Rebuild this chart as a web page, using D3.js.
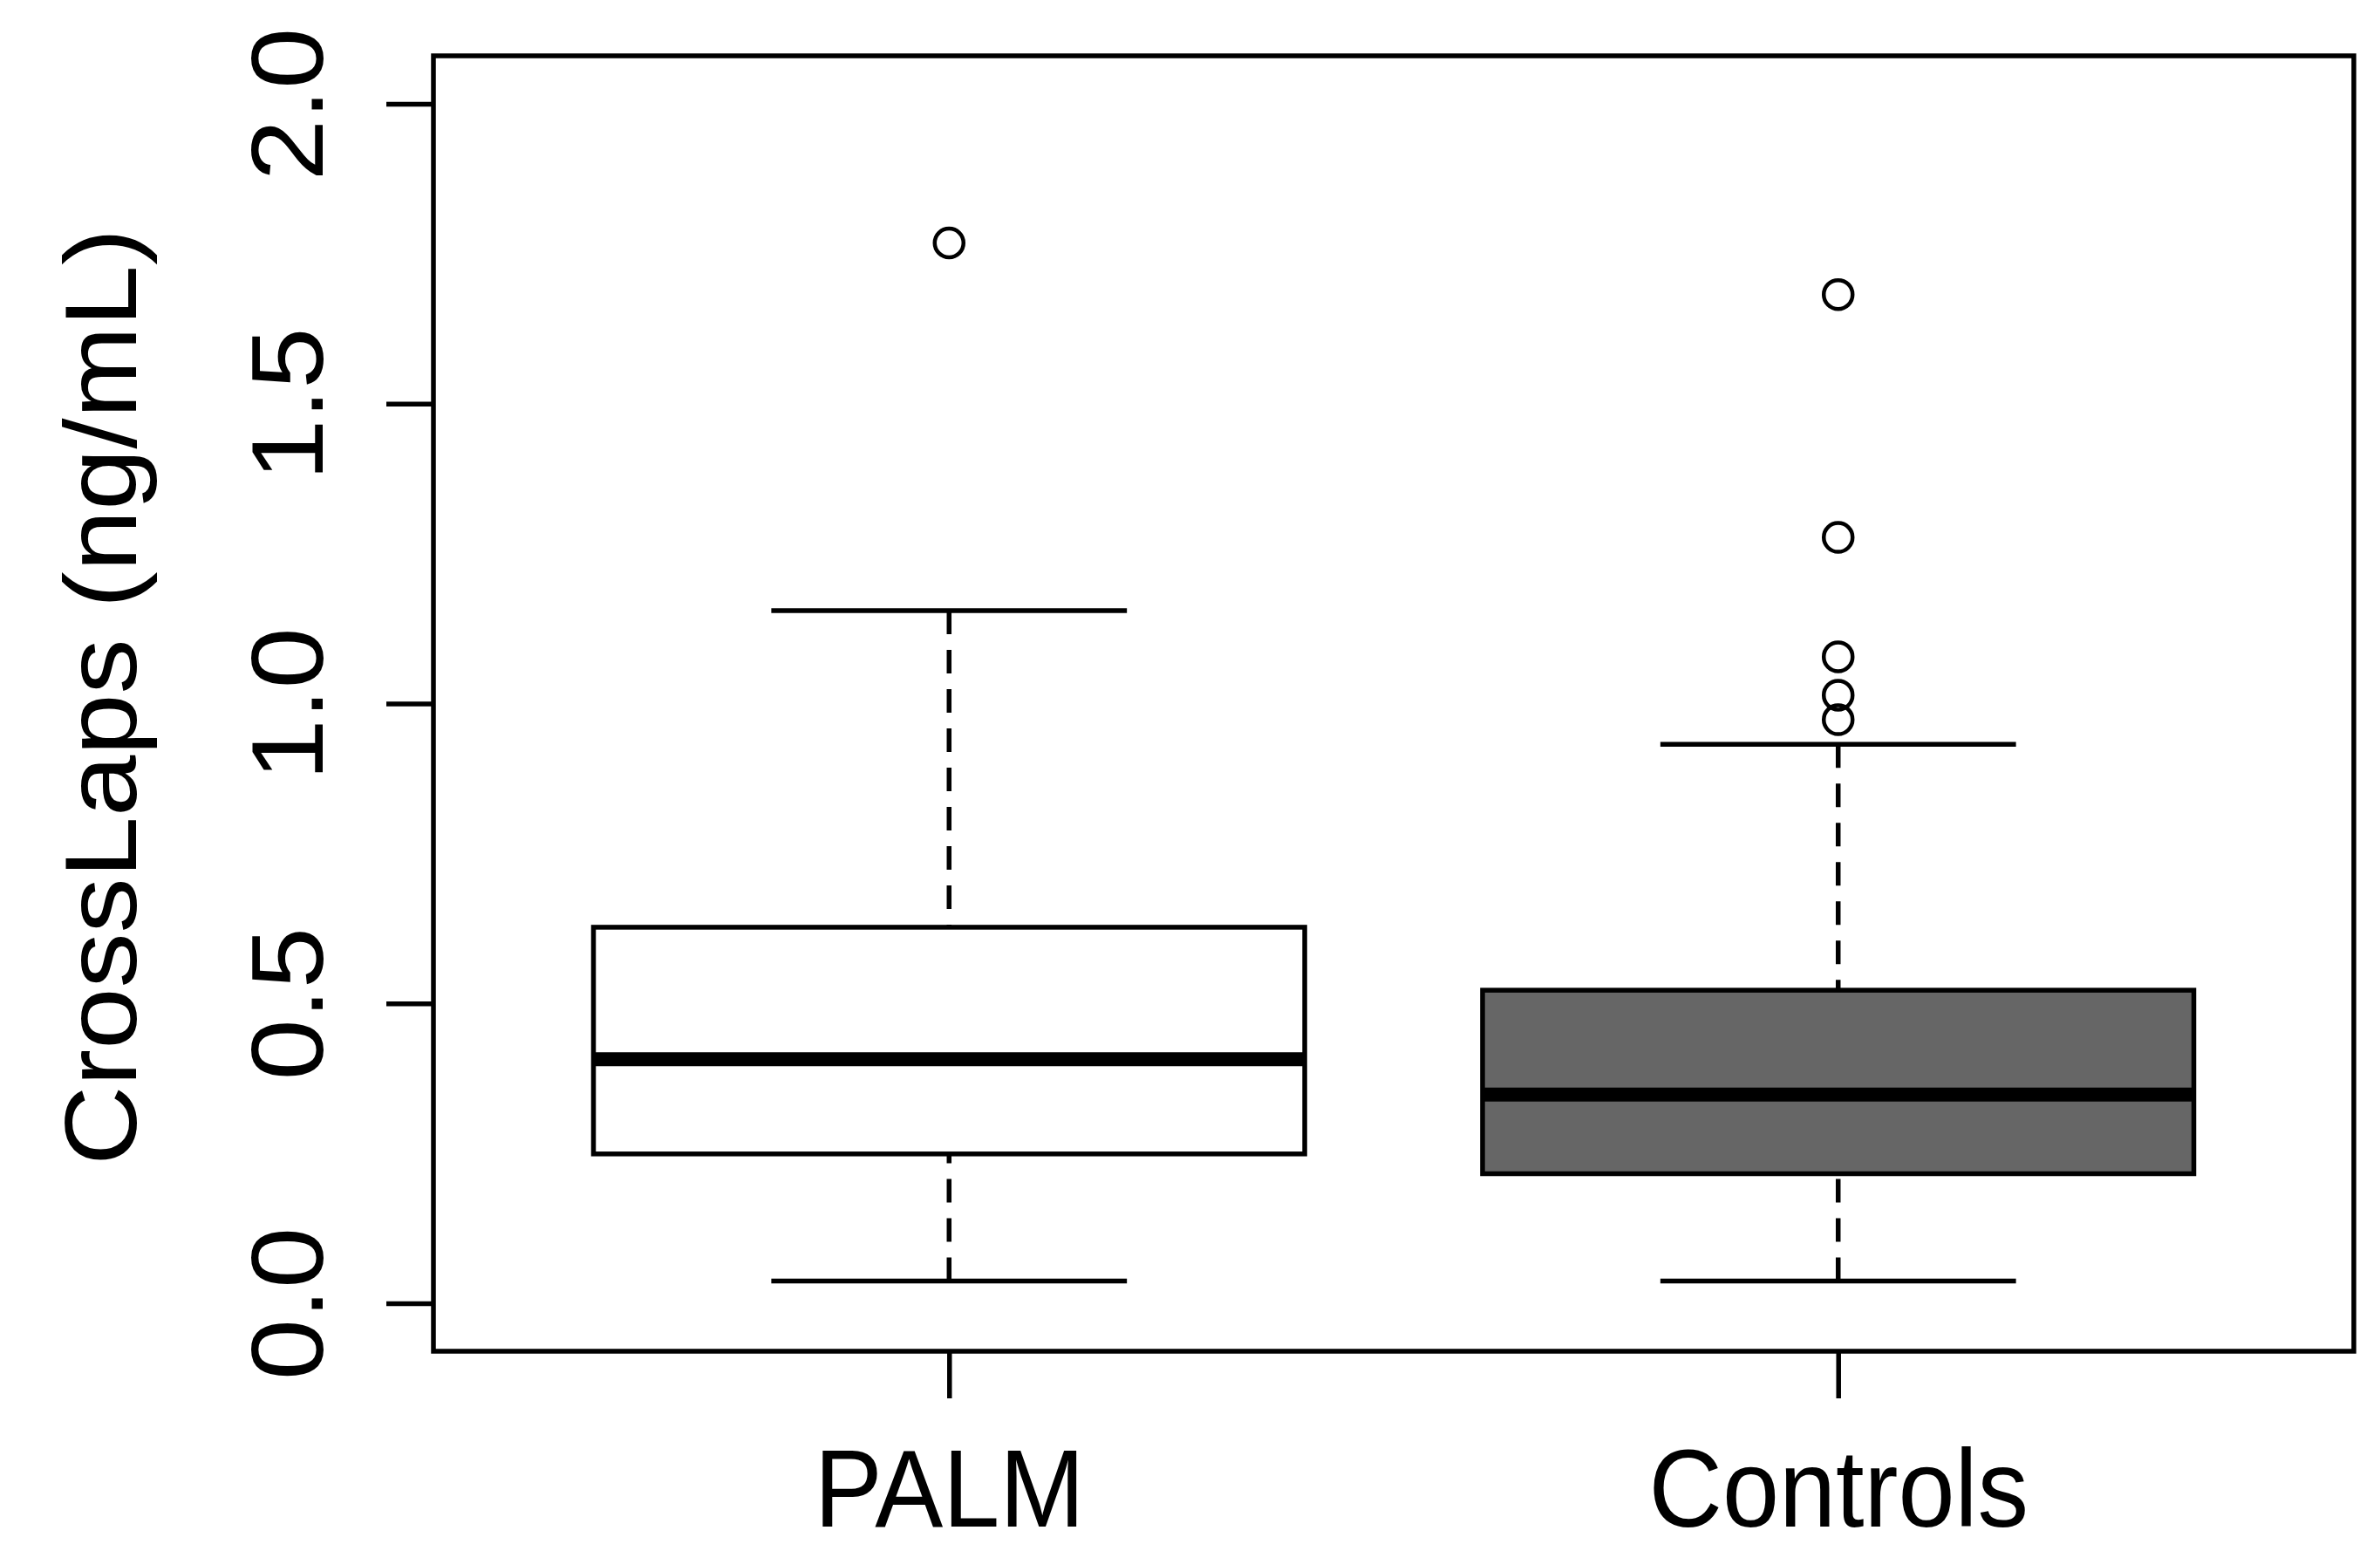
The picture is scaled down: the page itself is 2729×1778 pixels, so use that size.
<!DOCTYPE html>
<html>
<head>
<meta charset="utf-8">
<script src="https://cdn.jsdelivr.net/npm/d3@7"></script>
<style>
  body { margin: 0; background: #fff; }
  text { font-family: "Liberation Sans", Arial, sans-serif; fill: #000; }
</style>
</head>
<body>
<script>
// values
var groups = ['PALM', 'Controls'];
var lowerWhisker = [0.037, 0.037];
var q1 = [0.249, 0.216];
var median = [0.407, 0.348];
var q3 = [0.627, 0.522];
var upperWhisker = [1.155, 0.932];
var outliers = [[1.768], [1.682, 1.277, 1.078, 1.014, 0.973]];
var yTicks = [0, 0.5, 1, 1.5, 2];
var yLabel = 'CrossLaps (ng/mL)';

var boxFill = ['#ffffff', '#666666'];

var width = 2729,
  height = 1778,
  plotLeft = 497,
  plotRight = 2699,
  plotTop = 64,
  plotBottom = 1549,
  fontSize = 117,
  stretch = 1.08,
  lw = 5.5;

var svg = d3.select('body').append('svg')
  .attr('width', width)
  .attr('height', height);

// R style: xlim 0.5..2.5 and ylim 0..2, both padded by 4%
var x = d3.scaleLinear().domain([0.42, 2.58]).range([plotLeft, plotRight]);
var y = d3.scaleLinear().domain([-0.08, 2.08]).range([plotBottom, plotTop]);

var boxW = x(1.4) - x(1);
var capW = x(1.2) - x(1);

var data = groups.map(function(g, i) {
  return {
    name: g, pos: i + 1, lo: lowerWhisker[i], q1: q1[i], med: median[i],
    q3: q3[i], hi: upperWhisker[i], out: outliers[i], fill: boxFill[i]
  };
});

var box = svg.selectAll('.box')
  .data(data)
  .enter()
  .append('g')
  .attr('class', 'box');

// dashed whiskers, drawn from the whisker end towards the box like R does
box.append('line')
  .attr('x1', function(d) { return x(d.pos); })
  .attr('x2', function(d) { return x(d.pos); })
  .attr('y1', function(d) { return y(d.hi); })
  .attr('y2', function(d) { return y(d.q3); })
  .style('stroke', '#000')
  .style('stroke-width', lw)
  .style('stroke-dasharray', '27,18');

box.append('line')
  .attr('x1', function(d) { return x(d.pos); })
  .attr('x2', function(d) { return x(d.pos); })
  .attr('y1', function(d) { return y(d.lo); })
  .attr('y2', function(d) { return y(d.q1); })
  .style('stroke', '#000')
  .style('stroke-width', lw)
  .style('stroke-dasharray', '27,18');

// caps
box.append('line')
  .attr('x1', function(d) { return x(d.pos) - capW; })
  .attr('x2', function(d) { return x(d.pos) + capW; })
  .attr('y1', function(d) { return y(d.hi); })
  .attr('y2', function(d) { return y(d.hi); })
  .style('stroke', '#000')
  .style('stroke-width', lw);

box.append('line')
  .attr('x1', function(d) { return x(d.pos) - capW; })
  .attr('x2', function(d) { return x(d.pos) + capW; })
  .attr('y1', function(d) { return y(d.lo); })
  .attr('y2', function(d) { return y(d.lo); })
  .style('stroke', '#000')
  .style('stroke-width', lw);

// the boxes
box.append('rect')
  .attr('x', function(d) { return x(d.pos) - boxW; })
  .attr('y', function(d) { return y(d.q3); })
  .attr('width', boxW * 2)
  .attr('height', function(d) { return y(d.q1) - y(d.q3); })
  .style('fill', function(d) { return d.fill; })
  .style('stroke', '#000')
  .style('stroke-width', lw);

box.append('line')
  .attr('x1', function(d) { return x(d.pos) - boxW; })
  .attr('x2', function(d) { return x(d.pos) + boxW; })
  .attr('y1', function(d) { return y(d.med); })
  .attr('y2', function(d) { return y(d.med); })
  .style('stroke', '#000')
  .style('stroke-width', 16);

// outliers
box.selectAll('circle')
  .data(function(d) { return d.out.map(function(v) { return { pos: d.pos, v: v }; }); })
  .enter()
  .append('circle')
  .attr('cx', function(d) { return x(d.pos); })
  .attr('cy', function(d) { return y(d.v); })
  .attr('r', 16.5)
  .style('fill', 'none')
  .style('stroke', '#000')
  .style('stroke-width', 4.5);

// frame
svg.append('rect')
  .attr('x', plotLeft)
  .attr('y', plotTop)
  .attr('width', plotRight - plotLeft)
  .attr('height', plotBottom - plotTop)
  .style('fill', 'none')
  .style('stroke', '#000')
  .style('stroke-width', lw);

// y axis
var yAxis = svg.append('g')
  .attr('transform', 'translate(' + plotLeft + ',0)')
  .call(d3.axisLeft(y).tickValues(yTicks).tickSize(54).tickFormat(d3.format('.1f')));
yAxis.select('.domain').remove();
yAxis.selectAll('line').style('stroke', '#000').style('stroke-width', lw);
yAxis.selectAll('text')
  .attr('x', null)
  .attr('dy', null)
  .attr('text-anchor', 'middle')
  .attr('transform', 'translate(-127,0) scale(1,' + stretch + ') rotate(-90)')
  .style('font-size', fontSize + 'px')
  .style('font-family', '"Liberation Sans", Arial, sans-serif');

// x axis
var xAxis = svg.append('g')
  .attr('transform', 'translate(0,' + plotBottom + ')')
  .call(d3.axisBottom(x).tickValues([1, 2]).tickSize(54)
    .tickFormat(function(d) { return groups[d - 1]; }));
xAxis.select('.domain').remove();
xAxis.selectAll('line').style('stroke', '#000').style('stroke-width', lw);
xAxis.selectAll('text')
  .attr('y', null)
  .attr('dy', null)
  .attr('text-anchor', 'middle')
  .attr('transform', 'translate(0,201) scale(1,' + stretch + ')')
  .style('font-size', fontSize + 'px')
  .style('font-family', '"Liberation Sans", Arial, sans-serif');

// y axis title
svg.append('text')
  .attr('text-anchor', 'middle')
  .attr('transform', 'translate(156,799) scale(1,' + stretch + ') rotate(-90)')
  .style('font-size', fontSize + 'px')
  .text(yLabel);
</script>
</body>
</html>
